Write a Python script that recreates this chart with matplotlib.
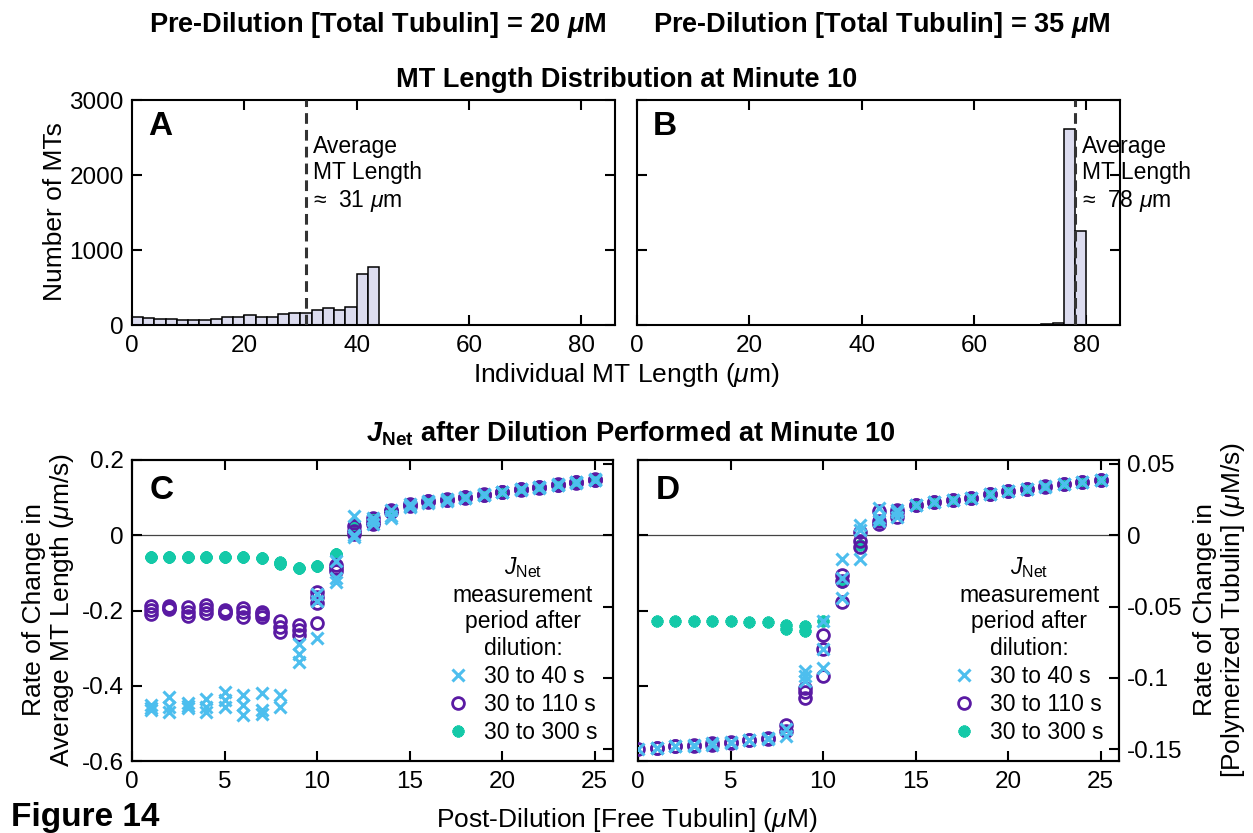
"""
Figure 14 — MT length distributions at minute 10 and J_Net after dilution.
"""

import matplotlib
import matplotlib.pyplot as plt
import numpy as np

matplotlib.use("Agg")

plt.rcParams["font.family"] = ["Liberation Sans", "DejaVu Sans"]
plt.rcParams["mathtext.fontset"] = "custom"
plt.rcParams["mathtext.rm"] = "Liberation Sans"
plt.rcParams["mathtext.it"] = "Liberation Sans:italic"
plt.rcParams["mathtext.bf"] = "Liberation Sans:bold"
plt.rcParams["mathtext.bfit"] = "Liberation Sans:italic:bold"

# ── Histogram data (bin width 2 um) ─────────────────────────────────────────
BIN_WIDTH = 2
HIST_A_LEFT = np.arange(0, 44, 2)
HIST_A_COUNTS = [111, 89, 76, 76, 67, 67, 62, 84, 107, 107, 138,
                 107, 107, 147, 155, 155, 195, 222, 195, 244, 675, 773]
HIST_B_LEFT = [66, 68, 70, 72, 74, 76, 78]
HIST_B_COUNTS = [3, 4, 6, 10, 25, 2610, 1260]
AVG_LEN_A = 31
AVG_LEN_B = 78

# ── J_Net data, panel C (um/s), several runs per concentration ──────────────
C_CONC = list(range(1, 26))
C_40S = [
    [-0.451, -0.465, -0.458], [-0.429, -0.456, -0.469], [-0.447, -0.460, -0.455],
    [-0.434, -0.456, -0.469], [-0.416, -0.438, -0.456], [-0.425, -0.451, -0.478],
    [-0.420, -0.465, -0.474], [-0.425, -0.456], [-0.290, -0.315, -0.336],
    [-0.155, -0.175, -0.273], [-0.069, -0.114, -0.123], [0.050, -0.005, 0.000],
    [0.047, 0.030, 0.040], [0.068, 0.052, 0.045], [0.082, 0.078, 0.075],
    [0.091, 0.088, 0.086], [0.096, 0.094, 0.092], [0.101, 0.100, 0.099],
    [0.109, 0.108, 0.107], [0.116, 0.115, 0.114], [0.123, 0.122, 0.121],
    [0.128, 0.127, 0.126], [0.135, 0.134, 0.133], [0.142, 0.141, 0.140],
    [0.149, 0.148, 0.147],
]
C_110S = [
    [-0.189, -0.198, -0.209], [-0.189, -0.193, -0.196], [-0.192, -0.203, -0.214],
    [-0.185, -0.196, -0.207], [-0.198, -0.203, -0.207], [-0.194, -0.205, -0.216],
    [-0.203, -0.210, -0.216], [-0.229, -0.243, -0.256], [-0.238, -0.251, -0.265],
    [-0.150, -0.165, -0.180, -0.232], [-0.078, -0.087, -0.096], [0.024, 0.011, 0.002],
    [0.045, 0.035, 0.030], [0.068, 0.064, 0.062], [0.082, 0.080, 0.079],
    [0.091, 0.090, 0.089], [0.096, 0.095, 0.094], [0.102, 0.101, 0.100],
    [0.109, 0.108, 0.107], [0.116, 0.115, 0.114], [0.123, 0.122, 0.121],
    [0.128, 0.127, 0.126], [0.135, 0.134, 0.133], [0.142, 0.141, 0.140],
    [0.149, 0.148, 0.147],
]
C_300S = [
    [-0.058, -0.058, -0.057], [-0.057, -0.058, -0.058], [-0.058, -0.058, -0.059],
    [-0.057, -0.058, -0.058], [-0.058, -0.059, -0.058], [-0.058, -0.058, -0.059],
    [-0.060, -0.061, -0.060], [-0.071, -0.074, -0.076], [-0.086, -0.088, -0.087],
    [-0.083, -0.083, -0.082], [-0.049, -0.050, -0.050], [0.026, 0.025, 0.026],
    [0.040, 0.040, 0.040], [0.065, 0.065, 0.064], [0.080, 0.080, 0.080],
    [0.090, 0.090, 0.090], [0.095, 0.095, 0.095], [0.101, 0.101, 0.101],
    [0.108, 0.108, 0.108], [0.115, 0.115, 0.115], [0.122, 0.122, 0.122],
    [0.127, 0.127, 0.127], [0.134, 0.134, 0.134], [0.141, 0.141, 0.141],
    [0.148, 0.148, 0.148],
]

# ── J_Net data, panel D (uM/s) ──────────────────────────────────────────────
D_CONC = list(range(0, 26))
D_40S = [
    [-0.150], [-0.149, -0.149], [-0.148, -0.148], [-0.148, -0.147],
    [-0.147, -0.146], [-0.146, -0.145], [-0.144, -0.144], [-0.143, -0.142],
    [-0.136, -0.141], [-0.095, -0.099, -0.102], [-0.060, -0.080, -0.093],
    [-0.017, -0.044, -0.030], [0.0075, -0.017, 0.004], [0.019, 0.012, 0.010],
    [0.018, 0.013, 0.016], [0.0215, 0.021], [0.0234, 0.023], [0.025, 0.0248],
    [0.026, 0.0262], [0.029, 0.0288], [0.031, 0.0308], [0.0325, 0.0323],
    [0.0344, 0.0342], [0.036, 0.0358], [0.0374, 0.0372], [0.039, 0.0388],
]
D_110S = [
    [-0.150], [-0.149, -0.149], [-0.148, -0.148], [-0.148, -0.147],
    [-0.147, -0.146], [-0.146, -0.145], [-0.144, -0.144], [-0.143, -0.142],
    [-0.133, -0.137], [-0.107, -0.110, -0.114], [-0.070, -0.080, -0.099],
    [-0.028, -0.032, -0.047], [0.002, -0.004, -0.008], [0.017, 0.010, 0.008],
    [0.018, 0.013, 0.016], [0.0215, 0.021], [0.0234, 0.023], [0.025, 0.0248],
    [0.026, 0.0262], [0.029, 0.0288], [0.031, 0.0308], [0.0325, 0.0323],
    [0.0344, 0.0342], [0.036, 0.0358], [0.0374, 0.0372], [0.039, 0.0388],
]
D_300S = [
    [], [-0.060], [-0.060], [-0.060], [-0.060], [-0.060], [-0.061], [-0.061],
    [-0.063, -0.066], [-0.064, -0.067], [-0.060], [-0.033], [-0.0065],
    [0.010], [0.016], [0.0215], [0.0234], [0.025], [0.026], [0.029], [0.031],
    [0.0325], [0.0344], [0.036], [0.0374], [0.039],
]

# MT length rate (um/s) -> polymerized tubulin rate (uM/s)
UM_PER_S_TO_UM_TUB = 0.264

COL_40 = "#4DBEEE"
COL_110 = "#5A1AA3"
COL_300 = "#14C9A8"
HIST_FACE = "#DCDCEF"

W, H = 1253, 833
TICK_FS = 17.5
LABEL_FS = 19
TEXT_FS = 16.5
TITLE_FS = 19.5


def flatten(conc, series):
    xs = [c for c, vals in zip(conc, series) for _ in vals]
    ys = [v for vals in series for v in vals]
    return xs, ys


def style_axes(ax):
    for sp in ax.spines.values():
        sp.set_linewidth(1.5)
    ax.tick_params(direction="in", length=7, width=1.5, top=True,
                   labelsize=TICK_FS)
    ax.tick_params(axis="x", pad=7)
    ax.tick_params(axis="y", pad=6)


def draw_hist(ax, left, counts, avg, letter, label_y):
    ax.bar(left, counts, width=BIN_WIDTH, align="edge", color=HIST_FACE,
           edgecolor="black", linewidth=1.1, zorder=2)
    ax.axvline(avg, color="#333333", linewidth=2.2, dashes=(3.5, 2), zorder=3)
    ax.set_xlim(0, 86)
    ax.set_ylim(0, 3000)
    ax.set_xticks([0, 20, 40, 60, 80])
    ax.set_yticks([0, 1000, 2000, 3000])
    style_axes(ax)
    ax.tick_params(right=True, labelleft=label_y)
    ax.text(avg + 1.2, 2540, "Average\nMT Length\n\u2248  %d $\\mu$m" % avg,
            fontsize=TEXT_FS, ha="left", va="top", zorder=4)
    ax.text(0.033, 0.95, letter, transform=ax.transAxes, fontsize=24,
            fontweight="bold", ha="left", va="top")


def draw_jnet(ax, conc, s40, s110, s300, scale, letter, left_labels):
    # scale != 1 means the data are in uM/s and go on the right-hand axis
    ax2 = ax.twinx()
    ax.set_xlim(0, 26)
    ax.set_ylim(-0.6, 0.2)
    ax2.set_ylim(-0.6 * UM_PER_S_TO_UM_TUB, 0.2 * UM_PER_S_TO_UM_TUB)
    ax.set_xticks([0, 5, 10, 15, 20, 25])
    ax.set_yticks([-0.6, -0.4, -0.2, 0, 0.2])
    ax.set_yticklabels(["-0.6", "-0.4", "-0.2", "0", "0.2"])
    ax2.set_yticks([-0.15, -0.1, -0.05, 0, 0.05])
    ax2.set_yticklabels(["-0.15", "-0.1", "-0.05", "0", "0.05"])
    style_axes(ax)
    style_axes(ax2)
    ax.tick_params(right=False, labelleft=left_labels)
    ax2.tick_params(labelright=not left_labels)
    ax.axhline(0, color="#444444", linewidth=0.9, zorder=1)

    target = ax if scale == 1 else ax2
    x3, y3 = flatten(conc, s300)
    x2, y2 = flatten(conc, s110)
    x1, y1 = flatten(conc, s40)
    h3, = target.plot(x3, y3, linestyle="none", marker=(8, 2, 0), markersize=8.5,
                      markeredgewidth=2.6, color=COL_300, zorder=3)
    h2, = target.plot(x2, y2, linestyle="none", marker="o", markersize=8.5,
                      markeredgewidth=2, markerfacecolor="none", color=COL_110, zorder=4)
    h1, = target.plot(x1, y1, linestyle="none", marker="x", markersize=8,
                      markeredgewidth=2.2, color=COL_40, zorder=5)

    leg = ax2.legend([h1, h2, h3], ["30 to 40 s", "30 to 110 s", "30 to 300 s"],
                     title="$J_{\\mathrm{Net}}$\nmeasurement\nperiod after\ndilution:",
                     loc="lower right", bbox_to_anchor=(1 - 16 / 481, 17 / 301),
                     frameon=False, fontsize=TEXT_FS, title_fontsize=TEXT_FS,
                     handlelength=0.8, handletextpad=0.7, labelspacing=0.22,
                     borderpad=0, borderaxespad=0)
    leg.get_title().set_multialignment("center")
    leg.get_title().set_linespacing(1.2)
    ax.text(0.037, 0.95, letter, transform=ax.transAxes, fontsize=24,
            fontweight="bold", ha="left", va="top")


def main():
    fig = plt.figure(figsize=(W / 100, H / 100), dpi=100)

    # ── MT length histograms ────────────────────────────────────────────────
    ax_a = fig.add_axes([132 / W, 1 - 325 / H, 483 / W, 225 / H])
    ax_b = fig.add_axes([637 / W, 1 - 325 / H, 483 / W, 225 / H])
    draw_hist(ax_a, HIST_A_LEFT, HIST_A_COUNTS, AVG_LEN_A, "A", True)
    draw_hist(ax_b, HIST_B_LEFT, HIST_B_COUNTS, AVG_LEN_B, "B", False)

    # ── J_Net scatter panels ────────────────────────────────────────────────
    ax_c = fig.add_axes([132 / W, 1 - 761 / H, 481 / W, 301 / H])
    ax_d = fig.add_axes([638 / W, 1 - 761 / H, 481 / W, 301 / H])
    draw_jnet(ax_c, C_CONC, C_40S, C_110S, C_300S, 1, "C", True)
    draw_jnet(ax_d, D_CONC, D_40S, D_110S, D_300S, UM_PER_S_TO_UM_TUB, "D", False)

    # ── Figure-level text ───────────────────────────────────────────────────
    fig.text(378 / W, 1 - 25 / H, r"Pre-Dilution [Total Tubulin] = 20 $\mathbfit{\mu}$M",
             fontsize=TITLE_FS, fontweight="bold", ha="center", va="center")
    fig.text(882 / W, 1 - 25 / H, r"Pre-Dilution [Total Tubulin] = 35 $\mathbfit{\mu}$M",
             fontsize=TITLE_FS, fontweight="bold", ha="center", va="center")
    fig.text(627 / W, 1 - 80 / H, "MT Length Distribution at Minute 10",
             fontsize=TITLE_FS, fontweight="bold", ha="center", va="center")
    fig.text(631 / W, 1 - 434 / H,
             r"$\mathbfit{J}_{\mathbf{Net}}$ after Dilution Performed at Minute 10",
             fontsize=TITLE_FS, fontweight="bold", ha="center", va="center")
    fig.text(626 / W, 1 - 375 / H, r"Individual MT Length ($\mu$m)",
             fontsize=LABEL_FS, ha="center", va="center")
    fig.text(627 / W, 1 - 820 / H, r"Post-Dilution [Free Tubulin] ($\mu$M)",
             fontsize=LABEL_FS, ha="center", va="center")
    fig.text(55 / W, 1 - 212 / H, "Number of MTs", fontsize=LABEL_FS,
             rotation=90, ha="center", va="center")
    fig.text(49 / W, 1 - 610 / H, "Rate of Change in\n" + r"Average MT Length ($\mu$m/s)",
             fontsize=LABEL_FS, rotation=90, ha="center", va="center",
             multialignment="center", linespacing=1.05)
    fig.text(1220 / W, 1 - 610 / H, "Rate of Change in\n" + r"[Polymerized Tubulin] ($\mu$M/s)",
             fontsize=LABEL_FS, rotation=90, ha="center", va="center",
             multialignment="center", linespacing=1.05)
    fig.text(11 / W, 7 / H, "Figure 14", fontsize=24, fontweight="bold",
             ha="left", va="baseline")

    fig.savefig("out.png", dpi=100)
    plt.close(fig)


if __name__ == "__main__":
    main()
